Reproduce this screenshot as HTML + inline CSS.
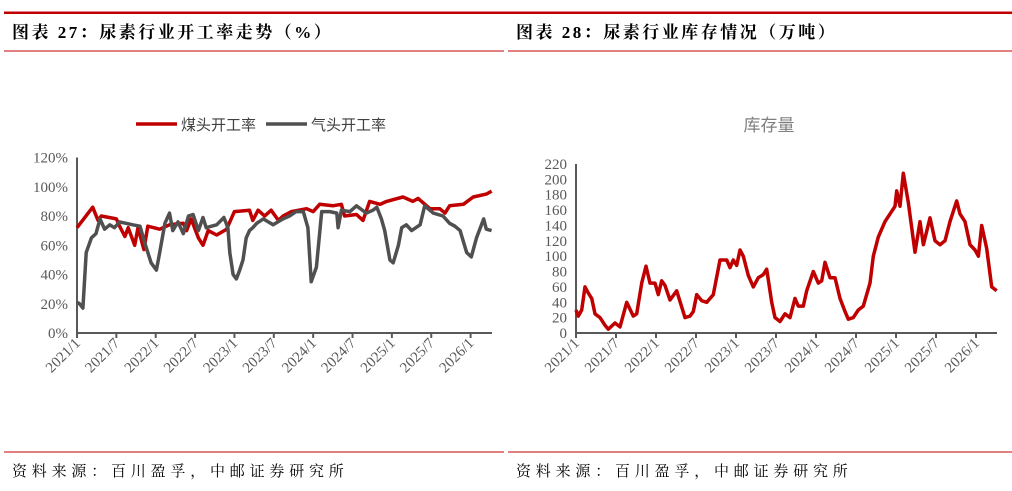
<!DOCTYPE html>
<html><head><meta charset="utf-8"><style>
html,body{margin:0;padding:0;background:#fff;}
svg{display:block;}
.t{font-family:"Liberation Serif","Noto Serif CJK SC",serif;font-weight:bold;font-size:17px;letter-spacing:2.5px;fill:#000;}
.f{font-family:"Liberation Serif","Noto Serif CJK SC",serif;font-size:15px;letter-spacing:4.8px;fill:#000;}
.ax{font-family:"Liberation Serif","Noto Serif CJK SC",serif;font-size:15px;fill:#595959;}
.lg{font-family:"Liberation Sans","Noto Sans CJK SC",sans-serif;font-size:15px;fill:#404040;}
</style></head><body>
<svg id="s" width="1012" height="491" xmlns="http://www.w3.org/2000/svg">
<rect x="4" y="11.5" width="1008" height="2.5" fill="#c00000"/>
<rect x="4" y="50.5" width="500" height="1" fill="#c00000"/>
<rect x="508" y="50.5" width="504" height="1" fill="#c00000"/>
<text x="12" y="38" class="t">图表 27：尿素行业开工率走势（%）</text>
<text x="516" y="38" class="t">图表 28：尿素行业库存情况（万吨）</text>
<rect x="4" y="451.5" width="500" height="1" fill="#c00000"/>
<rect x="508" y="451.5" width="504" height="1" fill="#c00000"/>
<text x="12" y="476" class="f">资料来源：百川盈孚，中邮证券研究所</text>
<text x="516" y="476" class="f">资料来源：百川盈孚，中邮证券研究所</text>
<g>
<line x1="136" y1="124" x2="177" y2="124" stroke="#c00000" stroke-width="3.5"/>
<text x="181" y="130" class="lg">煤头开工率</text>
<line x1="266" y1="124" x2="307" y2="124" stroke="#505050" stroke-width="3.5"/>
<text x="311" y="130" class="lg">气头开工率</text>
</g>
<text x="769" y="131" text-anchor="middle" style="font-family:'Liberation Sans','Noto Sans CJK SC',sans-serif;font-size:17px;fill:#7f7f7f">库存量</text>
<g id="L"></g><g id="R"></g>
</svg>
<script>
// x positions are month offsets from 2021/1
const xTickLabels = ["2021/1","2021/7","2022/1","2022/7","2023/1","2023/7","2024/1","2024/7","2025/1","2025/7","2026/1"];
const leftYTicks = [0,20,40,60,80,100,120];
const rightYTicks = [0,20,40,60,80,100,120,140,160,180,200,220];
const coalMonths = [0,2.4,3.2,3.7,6,6.5,7.3,7.8,8.8,9.3,10.2,10.8,12.6,14.1,16.2,16.7,17.4,18.5,19.2,20,21.3,22.8,24,26.3,26.8,27.6,28.6,29.6,30.7,31.4,32.7,35,36,37,39,40.3,40.8,42.6,43.6,44.6,46.2,47.2,49.7,51.2,52,53.8,55.3,56.1,56.8,58.9,60.4,62.4,63.2];
const coalRate = [72,86,77,80,78,73,66,72,60,72,57,73,71,74,75,70,78,65,60,70,67,71,83,84,77,84,80,84,77,80,83,85,83,88,87,88,80,81,77,90,88,90,93,90,92,85,85,82,87,88,93,95,97];
const gasMonths = [0,0.4,0.9,1.4,2.2,2.9,3.5,4.2,5,5.7,6.5,8.5,9.6,10.3,11.3,12.1,12.6,13.4,14.1,14.6,15.4,16.2,17,17.7,18.5,19.2,19.7,20.5,21.3,22.4,23,23.3,23.8,24.3,24.8,25.3,25.8,26.3,26.8,27.4,28.4,29.9,31.4,32.4,33.4,34.5,35.2,35.7,36.5,37.3,38.5,39.6,39.8,40.3,41.6,42.6,44.1,45.1,45.7,46.4,46.9,47.7,48.2,49,49.5,50.2,51,52.3,53,54.3,55.8,56.8,57.6,58.4,59.4,60.1,60.9,62,62.4,63.2];
const gasRate = [21,20,17,55,65,68,78,71,74,72,76,74,73,62,48,43,55,75,82,70,76,68,80,81,70,79,72,73,74,79,72,55,40,37,43,50,65,70,72,75,78,74,78,80,83,83,72,35,45,83,83,82,72,84,83,87,82,84,86,78,70,50,48,60,72,74,70,74,87,82,80,75,73,70,55,52,65,78,71,70];
const invMonths = [0,0.35,0.85,1.35,1.85,2.35,2.85,3.6,4.35,4.85,5.85,6.6,7.6,8.6,9.1,9.85,10.5,11.1,11.85,12.35,12.85,13.35,14.1,15.1,16.35,17.1,17.6,18.1,18.85,19.6,20.6,21.6,22.6,23.1,23.6,24.1,24.6,25.1,25.85,26.6,27.35,28.1,28.6,29.35,29.85,30.6,31.35,32.1,32.85,33.35,34.1,34.6,35.6,36.35,36.85,37.35,38.1,38.85,39.6,40.35,40.85,41.6,42.35,43.1,44.1,44.6,45.35,46.35,47.1,47.85,48.1,48.6,49.1,49.85,50.85,51.6,52.1,53.1,53.85,54.6,55.35,56.1,57.1,57.6,58.35,59.1,59.85,60.35,60.85,61.6,62.35,63.1];
const invStock = [30,22,30,60,52,45,25,20,10,5,13,8,40,22,25,65,87,65,65,50,68,62,43,55,20,22,28,50,42,40,50,95,95,85,95,88,108,100,75,60,72,76,83,40,20,15,25,20,45,35,35,55,80,65,68,92,72,72,45,28,18,20,30,35,65,100,125,145,155,165,185,165,208,170,105,145,115,150,120,115,120,145,172,155,145,115,108,100,140,110,60,55];

const NS="http://www.w3.org/2000/svg";
function mk(tag,attrs,parent){const e=document.createElementNS(NS,tag);for(const k in attrs)e.setAttribute(k,attrs[k]);parent.appendChild(e);return e;}

function chart(g,cfg){
  const sx=m=>cfg.x0+m*cfg.pxPerMonth;
  const sy=v=>cfg.y0-(v-0)/(cfg.yMax)*(cfg.y0-cfg.yTop);
  cfg.yTicks.forEach(v=>{
    const t=mk('text',{x:cfg.x0-9,y:sy(v)+5,'text-anchor':'end',class:'ax'},g);
    t.textContent=cfg.fmt(v);
    
    
  });
  const ya=mk('line',{x1:cfg.x0,y1:cfg.yTop,x2:cfg.x0,y2:cfg.y0,stroke:'#595959','stroke-width':2},g);
  
  
  const xa=mk('line',{x1:cfg.x0-1,y1:cfg.y0,x2:cfg.xEnd,y2:cfg.y0,stroke:'#595959','stroke-width':2},g);
  
  
  xTickLabels.forEach((lab,i)=>{
    const x=sx(i*6);
    const tk=mk('line',{x1:x,y1:cfg.y0,x2:x,y2:cfg.y0+5,stroke:'#595959','stroke-width':2},g);
    
    
    const t=mk('text',{x:x+4,y:cfg.y0+11,'text-anchor':'end',class:'ax',transform:`rotate(-45 ${x+4} ${cfg.y0+11})`},g);
    t.textContent=lab;
    
    
  });
  cfg.series.forEach(s=>{
    const d=s.m.map((m,i)=>(i?'L':'M')+sx(m).toFixed(1)+' '+sy(s.v[i]).toFixed(1)).join(' ');
    const p=mk('path',{d:d,fill:'none',stroke:s.c,'stroke-width':3.5,'stroke-linejoin':'round'},g);
    
    
  });
}
chart(document.getElementById('L'),{x0:77,xEnd:492,pxPerMonth:6.56,y0:333,yTop:157.5,yMax:120,yTicks:leftYTicks,fmt:v=>v+'%',
  series:[{m:coalMonths,v:coalRate,c:'#c00000',name:'coal-rate-line'},{m:gasMonths,v:gasRate,c:'#505050',name:'gas-rate-line'}]});
chart(document.getElementById('R'),{x0:576,xEnd:997,pxPerMonth:6.667,y0:333,yTop:164,yMax:220,yTicks:rightYTicks,fmt:v=>String(v),
  series:[{m:invMonths,v:invStock,c:'#c00000',name:'inventory-line'}]});
</script>
</body></html>
